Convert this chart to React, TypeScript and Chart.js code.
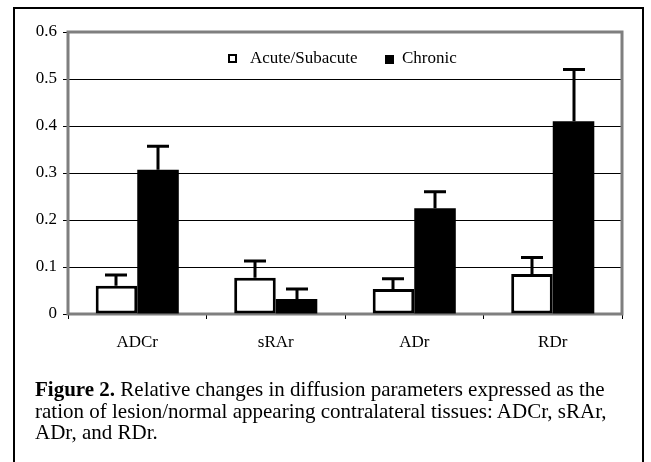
import React, { useEffect, useRef } from "react";
import { Chart, registerables } from "chart.js";

Chart.register(...registerables);

const categories = ["ADCr", "sRAr", "ADr", "RDr"];
const acuteValues = [0.06, 0.077, 0.053, 0.085];
const acuteErrTop = [0.083, 0.113, 0.075, 0.12];
const chronicValues = [0.307, 0.032, 0.225, 0.41];
const chronicErrTop = [0.357, 0.053, 0.26, 0.52];
const yMin = 0;
const yMax = 0.6;
const yStep = 0.1;
const seriesNames = ["Acute/Subacute", "Chronic"];
const captionBold = "Figure 2.";
const captionLines = [
  " Relative changes in diffusion parameters expressed as the",
  "ration of lesion/normal appearing contralateral tissues: ADCr, sRAr,",
  "ADr, and RDr.",
];

const FONT = "'Liberation Serif', 'Times New Roman', serif";

export default function App() {
  const canvasRef = useRef<HTMLCanvasElement | null>(null);

  useEffect(() => {
    const canvas = canvasRef.current;
    if (!canvas) return;
    const errTops = [acuteErrTop, chronicErrTop];

    const frame = {
      id: "frameRect",
      beforeDatasetsDraw(chart: any) {
        const { ctx, chartArea } = chart;
        ctx.save();
        ctx.strokeStyle = "#7f7f7f";
        ctx.lineWidth = 3;
        ctx.strokeRect(chartArea.left, chartArea.top, chartArea.right - chartArea.left, chartArea.bottom - chartArea.top);
        ctx.restore();
      },
    };

    const errorBars = {
      id: "errorBars",
      afterDatasetsDraw(chart: any) {
        const { ctx } = chart;
        const yScale = chart.scales.y;
        ctx.save();
        ctx.strokeStyle = "#000";
        ctx.lineWidth = 3;
        chart.data.datasets.forEach((_ds: any, di: number) => {
          const meta = chart.getDatasetMeta(di);
          meta.data.forEach((el: any, i: number) => {
            const x = Math.round(el.x);
            const yTop = yScale.getPixelForValue(errTops[di][i]);
            const yBar = el.y;
            ctx.beginPath();
            ctx.moveTo(x, yBar);
            ctx.lineTo(x, yTop);
            ctx.moveTo(x - 11, yTop);
            ctx.lineTo(x + 11, yTop);
            ctx.stroke();
          });
        });
        ctx.restore();
      },
    };

    const chart = new Chart(canvas, {
      type: "bar",
      data: {
        labels: categories,
        datasets: [
          {
            label: seriesNames[0],
            data: acuteValues,
            backgroundColor: "#ffffff",
            borderColor: "#000000",
            borderWidth: 3,
            borderSkipped: false,
            categoryPercentage: 0.6,
            barPercentage: 1,
          },
          {
            label: seriesNames[1],
            data: chronicValues,
            backgroundColor: "#000000",
            borderColor: "#000000",
            borderWidth: 0,
            categoryPercentage: 0.6,
            barPercentage: 1,
          },
        ],
      },
      options: {
        animation: false,
        responsive: false,
        devicePixelRatio: 1,
        layout: { padding: { left: 0, right: 29, top: 32, bottom: 0 } },
        plugins: { legend: { display: false }, tooltip: { enabled: false }, title: { display: false } },
        scales: {
          x: {
            grid: { display: true, drawOnChartArea: false, drawTicks: true, tickLength: 5, color: "#000", offset: true },
            border: { display: false },
            ticks: { color: "#000", font: { family: FONT, size: 17 }, padding: 13 },
            afterFit(scale: any) {
              scale.height = 66;
            },
          },
          y: {
            min: yMin,
            max: yMax,
            ticks: {
              stepSize: yStep,
              color: "#000",
              font: { family: FONT, size: 17 },
              padding: 6,
              callback: (v: any) => (Number(v) === 0 ? "0" : Number(v).toFixed(1)),
            },
            grid: { color: "#000", lineWidth: 1, tickLength: 5, drawTicks: true },
            border: { display: false },
            afterFit(scale: any) {
              scale.width = 68;
            },
          },
        },
      },
      plugins: [frame, errorBars],
    });
    return () => chart.destroy();
  }, []);

  return (
    <div
      style={{
        position: "fixed",
        left: 0,
        top: 0,
        width: 651,
        height: 462,
        background: "#fff",
        overflow: "hidden",
        fontFamily: FONT,
        color: "#000",
      }}
    >
      <div
        style={{
          position: "absolute",
          left: 13,
          top: 7,
          width: 631,
          height: 480,
          border: "2px solid #000",
          boxSizing: "border-box",
        }}
      />
      <canvas
        ref={canvasRef}
        width={651}
        height={380}
        style={{ position: "absolute", left: 0, top: 0, width: 651, height: 380 }}
      />
      <div style={{ position: "absolute", left: 228, top: 54, width: 9, height: 9, border: "2.5px solid #000", boxSizing: "border-box", background: "#fff" }} />
      <div style={{ position: "absolute", left: 250, top: 49, fontSize: 17, lineHeight: "17px", whiteSpace: "nowrap", fontFamily: FONT }}>{seriesNames[0]}</div>
      <div style={{ position: "absolute", left: 385, top: 55, width: 9, height: 9, background: "#000" }} />
      <div style={{ position: "absolute", left: 402, top: 49, fontSize: 17, lineHeight: "17px", whiteSpace: "nowrap", fontFamily: FONT }}>{seriesNames[1]}</div>
      <div
        style={{
          position: "absolute",
          left: 35,
          top: 379,
          fontSize: 21,
          lineHeight: "21.5px",
          whiteSpace: "pre",
        }}
      >
        <b>{captionBold}</b>
        {captionLines[0]}
        {"\n"}
        {captionLines[1]}
        {"\n"}
        {captionLines[2]}
      </div>
    </div>
  );
}
